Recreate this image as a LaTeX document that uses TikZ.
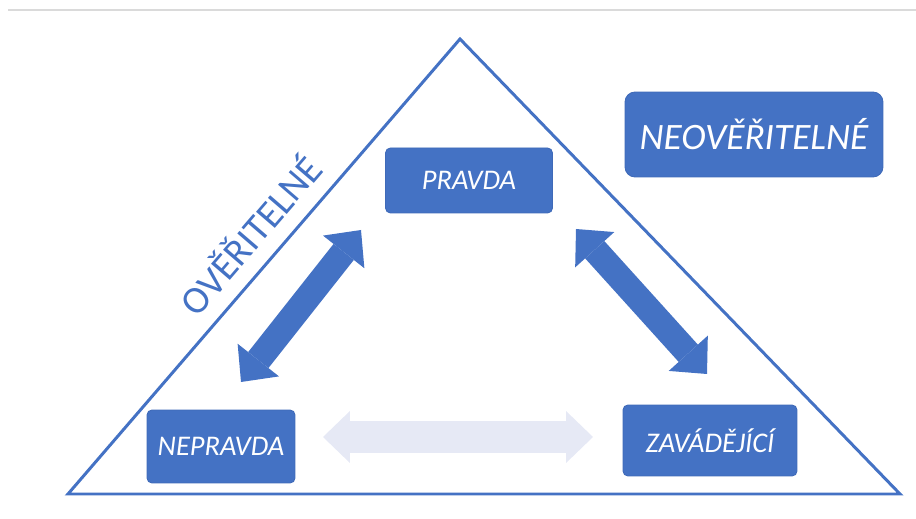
\documentclass[tikz,border=0pt]{standalone}
\usepackage{fontspec}
\setmainfont{Carlito}
\usetikzlibrary{arrows.meta}
\definecolor{pblue}{HTML}{4472C4}
\definecolor{pedge}{HTML}{3F6AB8}
\definecolor{plight}{HTML}{E6E9F5}
\definecolor{prule}{HTML}{DADADA}

\begin{document}
\begin{tikzpicture}
   [x=0.02cm,y=-0.02cm,
   every node/.style={inner sep=0pt,text=white,align=center,
   	font=\fontsize{16.2}{19}\selectfont\itshape},
   box/.style={draw=pedge,fill=pblue,line width=0.5pt,rounded corners=2.8pt},
   bigarrow/.style={line width=14.7pt,
   	{Triangle[length=15.9pt,width=30pt,line width=0pt 0 0]}-{Triangle[length=15.9pt,width=30pt,line width=0pt 0 0]}}]
   \useasboundingbox (0,0) rectangle (916,519);
   \draw[prule,line width=0.6pt] (8,10) -- (916,10);
   % triangle
   \coordinate (top) at (460,39);
   \coordinate (bl) at (68,494);
   \coordinate (br) at (900,494);
   \draw[pblue,line width=1.7pt,line join=miter] (top) -- (bl) -- (br) -- cycle;
   \node[text=pblue,font=\fontsize{22}{26}\selectfont,rotate=49.3] (over) at (249,234) {OVĚŘITELNÉ};
   % boxes
   \node[box,minimum width=3.34cm,minimum height=1.3cm] (pravda) at (469,180.5) {PRAVDA};
   \node[box,minimum width=2.96cm,minimum height=1.46cm] (nepravda) at (221,446.5) {NEPRAVDA};
   \node[box,minimum width=3.48cm,minimum height=1.42cm] (zavadejici) at (710,440.5) {ZAVÁDĚJÍCÍ};
   \node[box,rounded corners=5.7pt,minimum width=5.16cm,minimum height=1.7cm,
   	font=\fontsize{21.2}{25}\selectfont\itshape] (neover) at (754,134.5) {NEOVĚŘITELNÉ};
   % arrows
   \coordinate (a1) at (241,382);
   \coordinate (a2) at (361,230);
   \coordinate (b1) at (576,229);
   \coordinate (b2) at (707,374);
   \coordinate (c1) at (323,437);
   \coordinate (c2) at (593,437);
   \foreach \startNode/\endNode in {a1/a2,b1/b2}
   {
   	\draw[bigarrow,pblue] (\startNode) -- (\endNode);
   }
   \draw[plight,line width=18.1pt,
   	{Triangle[length=15.3pt,width=29.5pt,line width=0pt 0 0]}-{Triangle[length=15.3pt,width=29.5pt,line width=0pt 0 0]}] (c1) -- (c2);
\end{tikzpicture}
\end{document}
